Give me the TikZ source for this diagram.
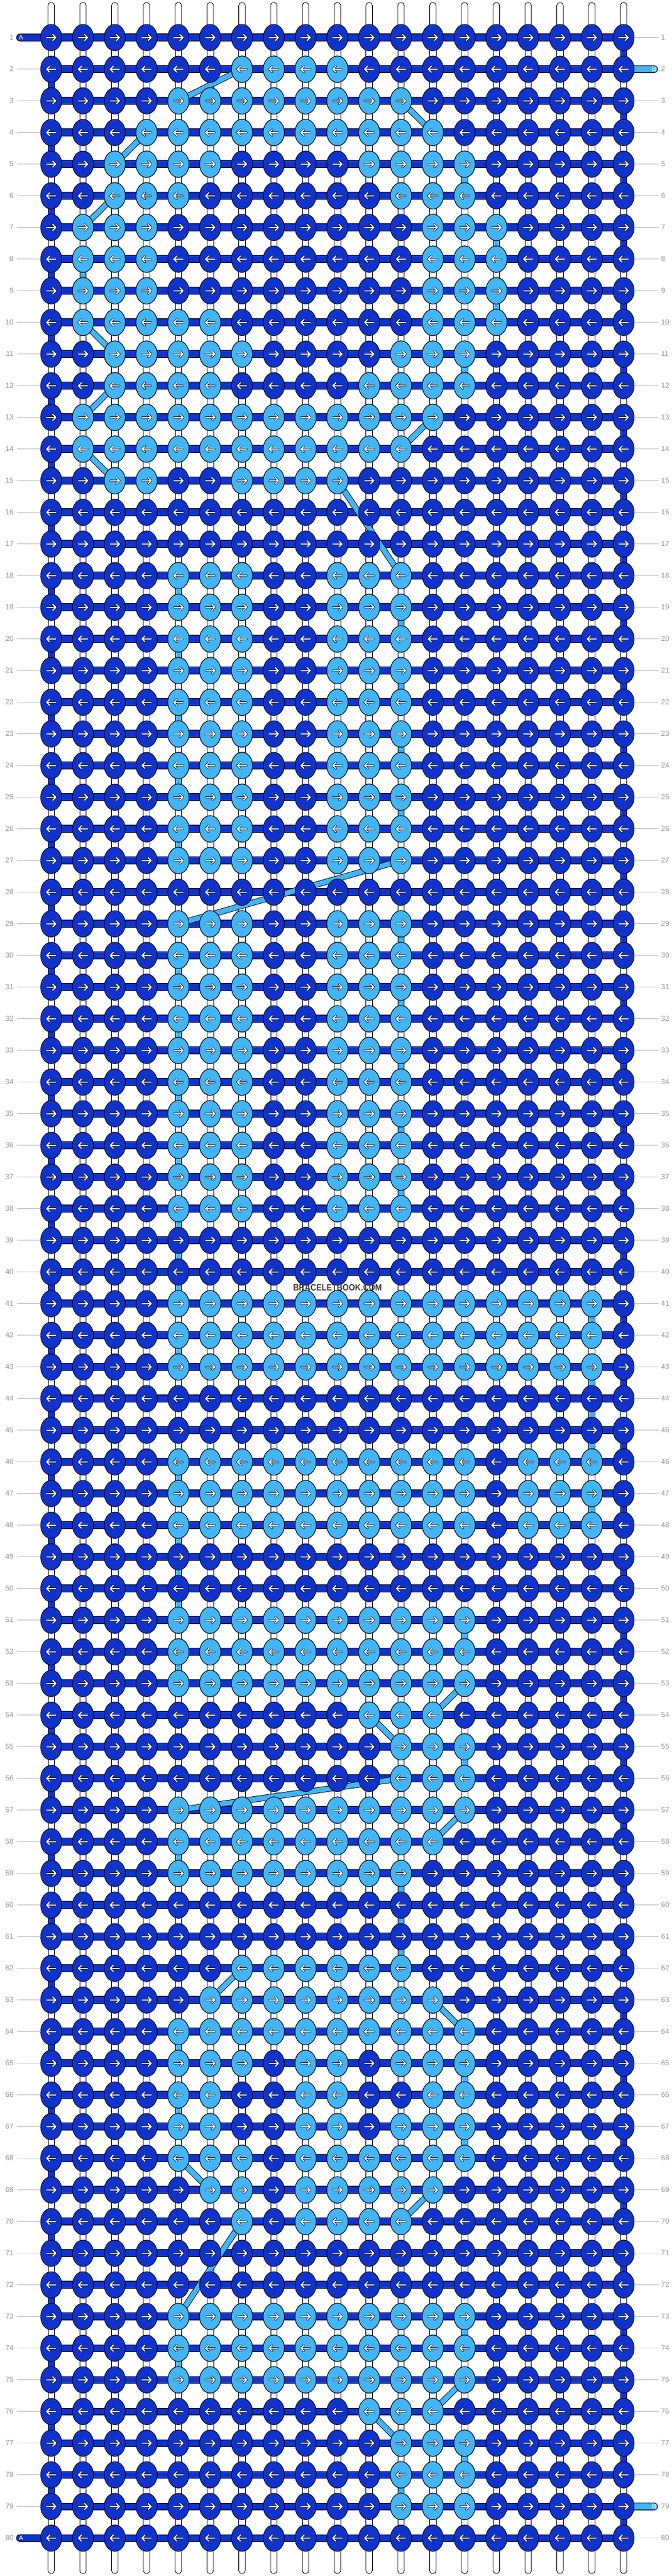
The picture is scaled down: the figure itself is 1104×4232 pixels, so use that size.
\documentclass[tikz,border=0pt]{standalone}
\usepackage{fontspec}
\setmainfont{Liberation Sans}
\definecolor{dk}{RGB}{16,51,204}
\definecolor{lt}{RGB}{66,180,248}
\definecolor{lblgray}{RGB}{150,150,150}
\definecolor{linegray}{RGB}{190,190,190}
\definecolor{wm}{RGB}{60,60,60}
\newcommand\KX[1]{84.2+(#1-1)*52.29}
\newcommand\KY[1]{61.7+(#1-1)*52}
\newcommand\myknot[3]{%
  \pgfmathsetmacro\kx{\KX{#1}}%
  \pgfmathsetmacro\ky{\KY{#2}}%
  \begin{scope}[shift={(\kx,\ky)}]
    \filldraw[fill=#3,draw=black,line width=0.9] (0,0) ellipse [x radius=17.4,y radius=21.7];
    \ifodd#2\relax
      \draw[black,line width=3.4,line cap=round,line join=round] (-7.5,0)--(7.5,0) (2.5,-5)--(7.5,0)--(2.5,5);
      \draw[white,line width=1.9,line cap=round,line join=round] (-7.5,0)--(7.5,0) (2.5,-5)--(7.5,0)--(2.5,5);
    \else
      \draw[black,line width=3.4,line cap=round,line join=round] (7.5,0)--(-7.5,0) (-2.5,-5)--(-7.5,0)--(-2.5,5);
      \draw[white,line width=1.9,line cap=round,line join=round] (7.5,0)--(-7.5,0) (-2.5,-5)--(-7.5,0)--(-2.5,5);
    \fi
  \end{scope}}
\newcommand\vconn[3]{%
  \pgfmathsetmacro\kx{\KX{#1}}%
  \pgfmathsetmacro\ky{\KY{#2}}%
  \filldraw[fill=#3,draw=black,line width=0.8] (\kx-5.3,\ky) rectangle (\kx+5.3,\ky+52);}
\begin{document}
\begin{tikzpicture}[x=1pt,y=-1pt]
\useasboundingbox (0,0) rectangle (1104,4232);
\fill[white] (0,0) rectangle (1104,4232);
% top and bottom free strings
\foreach \c in {1,...,19}{
  \pgfmathsetmacro\kx{\KX{\c}}
  \filldraw[fill=white,draw=black,line width=0.8,rounded corners=5] (\kx-5.3,62) -- (\kx-5.3,4) -- (\kx+5.3,4) -- (\kx+5.3,62) -- cycle;
  \filldraw[fill=white,draw=black,line width=0.8,rounded corners=5] (\kx-5.3,4169) -- (\kx-5.3,4228) -- (\kx+5.3,4228) -- (\kx+5.3,4169) -- cycle;
}
% vertical connectors
\foreach \r in {1,...,79}{\foreach \c in {1,...,19}{\vconn{\c}{\r}{white}}}
\foreach \r in {1,3,...,79}{\vconn{19}{\r}{dk}}
\foreach \r in {2,4,...,78}{\vconn{1}{\r}{dk}}
\foreach \c/\r in {14/5,15/7,2/8,15/9,14/11,5/18,12/19,5/20,12/21,5/22,12/23,5/24,12/25,5/26,12/29,5/30,12/31,5/32,12/33,5/34,12/35,5/36,12/37,5/38,5/39,5/40,18/41,5/42,18/43,18/44,18/45,5/46,18/47,5/48,5/49,5/50,14/51,5/52,14/55,5/58,12/59,12/60,12/61,5/64,14/65,5/66,14/67,14/73,5/74,14/77,12/78}{\vconn{\c}{\r}{lt}}
% end pieces of the working strings
\foreach \r in {1,80}{
  \pgfmathsetmacro\ky{\KY{\r}}
  \filldraw[fill=dk,draw=black,line width=0.8,rounded corners=5.5] (90,\ky-5.85) -- (27,\ky-5.85) -- (27,\ky+5.85) -- (90,\ky+5.85) -- cycle;
  \node[text=white,font=\fontsize{11}{11}\selectfont,inner sep=0] at (34.5,\ky) {A};
}
\foreach \r in {2,79}{
  \pgfmathsetmacro\ky{\KY{\r}}
  \filldraw[fill=lt,draw=black,line width=0.8,rounded corners=5.5] (1020,\ky-5.85) -- (1081.5,\ky-5.85) -- (1081.5,\ky+5.85) -- (1020,\ky+5.85) -- cycle;
  \node[text=white,font=\fontsize{11}{11}\selectfont,inner sep=0] at (1075.5,\ky) {B};
}
% horizontal bars
\foreach \r in {1,...,80}{
  \pgfmathsetmacro\ky{\KY{\r}}
  \filldraw[fill=dk,draw=black,line width=0.8] (84.2,\ky-5.85) rectangle (1025.4,\ky+5.85);
}
% diagonal carried strings
\foreach \ra/\ca/\rb/\cb in {2/7/3/5,3/12/4/13,4/4/5/3,6/3/7/2,10/2/11/3,12/3/13/2,13/13/14/12,14/2/15/3,15/10/18/12,27/12/29/5,53/14/54/13,54/11/55/12,56/12/57/5,57/14/58/13,62/7/63/6,63/13/64/14,68/5/69/6,69/13/70/12,70/7/73/5,75/14/76/13,76/11/77/12}{
  \pgfmathsetmacro\xa{\KX{\ca}}\pgfmathsetmacro\ya{\KY{\ra}}
  \pgfmathsetmacro\xb{\KX{\cb}}\pgfmathsetmacro\yb{\KY{\rb}}
  \draw[black,line width=10] (\xa,\ya)--(\xb,\yb);
  \draw[lt,line width=8.2] (\xa,\ya)--(\xb,\yb);
}
% knots
\foreach \r in {1,...,80}{\foreach \c in {1,...,19}{\myknot{\c}{\r}{dk}}}
\foreach \r/\a/\b in {2/7/10,3/5/12,4/4/13,5/3/6,5/11/14,6/3/5,6/12/14,7/2/4,7/13/15,8/2/4,8/13/15,9/2/4,9/13/15,10/2/6,10/13/15,11/3/7,11/12/14,12/3/6,12/11/14,13/2/13,14/2/12,15/3/4,15/7/10,41/5/18,42/5/18,43/5/18,46/5/14,46/16/18,47/5/14,47/16/18,48/5/14,48/16/18,51/5/14,52/5/14,53/5/14,54/11/13,55/12/14,56/12/14,57/5/14,58/5/13,59/5/12,62/7/12,63/6/13,64/5/14,65/5/7,65/9/10,65/12/14,66/5/6,66/9/10,66/13/14,67/5/6,67/9/10,67/12/14,68/5/7,68/9/14,69/6/7,69/9/13,70/7/7,70/9/12,73/5/14,74/5/14,75/5/14,76/11/13,77/12/14,78/12/14,79/12/14}{
  \foreach \c in {\a,...,\b}{\myknot{\c}{\r}{lt}}}
\foreach \r in {18,...,27}{\foreach \c in {5,6,7,10,11,12}{\myknot{\c}{\r}{lt}}}
\foreach \r in {29,...,38}{\foreach \c in {5,6,7,10,11,12}{\myknot{\c}{\r}{lt}}}
% row numbers and guide lines
\foreach \r in {1,...,80}{
  \pgfmathsetmacro\ky{\KY{\r}}
  \node[anchor=east,text=lblgray,font=\fontsize{12}{12}\selectfont,inner sep=0] at (22.5,\ky) {\r};
  \node[anchor=west,text=lblgray,font=\fontsize{12}{12}\selectfont,inner sep=0] at (1087,\ky) {\r};
  \ifnum\r=1\relax\else\ifnum\r=80\relax\else
    \draw[linegray,line width=1.3] (28,\ky)--(67,\ky);
  \fi\fi
  \ifnum\r=2\relax\else\ifnum\r=79\relax\else
    \draw[linegray,line width=1.3] (1043,\ky)--(1083,\ky);
  \fi\fi
}
\node[text=wm,font=\bfseries\fontsize{15}{15}\selectfont,inner sep=0] (wmark) at (555,2115.7) {\scalebox{0.88}[1]{BRACELETBOOK.COM}};
\end{tikzpicture}
\end{document}
